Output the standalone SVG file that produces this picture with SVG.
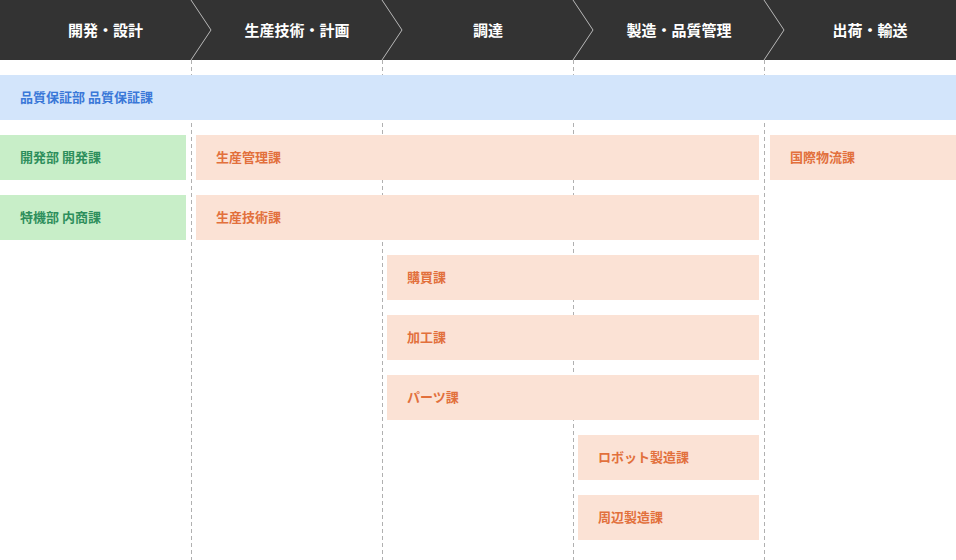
<svg xmlns="http://www.w3.org/2000/svg" width="956" height="560" viewBox="0 0 956 560">
<style>
.hd{font-family:"Noto Sans CJK JP","Noto Sans",sans-serif;font-size:15px;font-weight:bold;fill:#ffffff;text-anchor:middle}
.t{font-family:"Noto Sans CJK JP","Noto Sans",sans-serif;font-size:13px;font-weight:bold}
.blue rect{fill:#d3e5fb}.blue text{fill:#3a78d8}
.green rect{fill:#c8eec8}.green text{fill:#2e8f5c}
.org rect{fill:#fbe2d5}.org text{fill:#e2703c}
.dash{stroke:#b0b0b0;stroke-width:1;stroke-dasharray:4 3;fill:none}
.chev{stroke:#b8b8b8;stroke-width:1;fill:none}
</style>
<rect width="956" height="560" fill="#ffffff"/>
<g id="header">
<rect x="0" y="0" width="956" height="60" fill="#333333"/>
<text class="hd" x="105.5" y="36">開発・設計</text>
<text class="hd" x="297" y="36">生産技術・計画</text>
<text class="hd" x="488" y="36">調達</text>
<text class="hd" x="679" y="36">製造・品質管理</text>
<text class="hd" x="870" y="36">出荷・輸送</text>
</g>
<g id="connectors">
<polyline class="chev" points="191,0 211,30 191,60"/>
<polyline class="chev" points="382,0 402,30 382,60"/>
<polyline class="chev" points="573,0 593,30 573,60"/>
<polyline class="chev" points="764,0 784,30 764,60"/>
<line class="dash" x1="191.5" y1="60" x2="191.5" y2="560"/>
<line class="dash" x1="382.5" y1="60" x2="382.5" y2="560"/>
<line class="dash" x1="573.5" y1="60" x2="573.5" y2="560"/>
<line class="dash" x1="764.5" y1="60" x2="764.5" y2="560"/>
</g>
<g id="qa" class="blue"><rect x="0" y="75" width="956" height="45"/><text class="t" x="20" y="102">品質保証部 品質保証課</text></g>
<g id="dev" class="green"><rect x="0" y="135" width="186" height="45"/><text class="t" x="20" y="162">開発部 開発課</text></g>
<g id="special" class="green"><rect x="0" y="195" width="186" height="45"/><text class="t" x="20" y="222">特機部 内商課</text></g>
<g id="prodmgmt" class="org"><rect x="196" y="135" width="563" height="45"/><text class="t" x="216" y="162">生産管理課</text></g>
<g id="logistics" class="org"><rect x="770" y="135" width="186" height="45"/><text class="t" x="790" y="162">国際物流課</text></g>
<g id="prodtech" class="org"><rect x="196" y="195" width="563" height="45"/><text class="t" x="216" y="222">生産技術課</text></g>
<g id="purchase" class="org"><rect x="387" y="255" width="372" height="45"/><text class="t" x="407" y="282">購買課</text></g>
<g id="process" class="org"><rect x="387" y="315" width="372" height="45"/><text class="t" x="407" y="342">加工課</text></g>
<g id="parts" class="org"><rect x="387" y="375" width="372" height="45"/><text class="t" x="407" y="402">パーツ課</text></g>
<g id="robot" class="org"><rect x="578" y="435" width="181" height="45"/><text class="t" x="598" y="462">ロボット製造課</text></g>
<g id="periph" class="org"><rect x="578" y="495" width="181" height="45"/><text class="t" x="598" y="522">周辺製造課</text></g>
</svg>
